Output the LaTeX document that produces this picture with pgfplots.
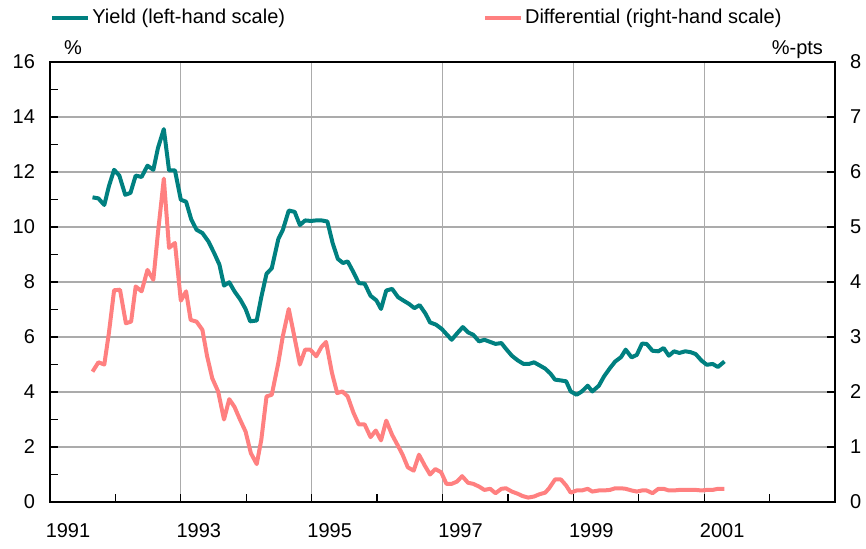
\documentclass[border=0pt]{standalone}
\usepackage{fontspec}
\setmainfont{Liberation Sans}
\usepackage{pgfplots}
\usepackage{pgfplotstable}
\pgfplotsset{compat=1.18}

\definecolor{yieldc}{HTML}{008080}
\definecolor{diffc}{HTML}{FF8080}
\definecolor{gridc}{HTML}{ABABAB}

% yield, per cent (left-hand scale)
\pgfplotstableread{
x y
1991.65 11.08
1991.74 11.04
1991.83 10.80
1991.90 11.48
1991.98 12.08
1992.06 11.87
1992.15 11.17
1992.23 11.24
1992.31 11.87
1992.40 11.82
1992.49 12.23
1992.58 12.08
1992.65 12.87
1992.74 13.56
1992.82 12.06
1992.91 12.06
1993.00 10.99
1993.08 10.92
1993.16 10.27
1993.24 9.90
1993.33 9.78
1993.42 9.48
1993.51 9.05
1993.59 8.63
1993.66 7.87
1993.74 7.99
1993.82 7.66
1993.91 7.36
1993.99 7.02
1994.06 6.57
1994.16 6.60
1994.23 7.45
1994.31 8.30
1994.39 8.50
1994.49 9.56
1994.56 9.90
1994.65 10.60
1994.74 10.55
1994.82 10.07
1994.90 10.24
1994.99 10.22
1995.07 10.24
1995.15 10.24
1995.24 10.20
1995.32 9.42
1995.40 8.84
1995.48 8.69
1995.55 8.75
1995.64 8.35
1995.72 7.96
1995.81 7.94
1995.90 7.50
1995.99 7.33
1996.06 7.02
1996.14 7.69
1996.23 7.75
1996.32 7.45
1996.40 7.33
1996.49 7.20
1996.57 7.05
1996.65 7.16
1996.74 6.85
1996.81 6.53
1996.90 6.45
1996.99 6.29
1997.07 6.08
1997.14 5.90
1997.23 6.15
1997.31 6.36
1997.39 6.17
1997.47 6.08
1997.56 5.84
1997.64 5.90
1997.73 5.82
1997.81 5.75
1997.90 5.78
1997.97 5.57
1998.06 5.32
1998.15 5.15
1998.24 5.02
1998.32 5.02
1998.40 5.08
1998.49 4.96
1998.57 4.85
1998.65 4.67
1998.72 4.45
1998.81 4.42
1998.89 4.39
1998.96 4.02
1999.05 3.90
1999.13 4.02
1999.22 4.23
1999.29 4.02
1999.39 4.23
1999.47 4.57
1999.56 4.87
1999.64 5.11
1999.73 5.27
1999.80 5.54
1999.89 5.26
1999.97 5.35
2000.05 5.76
2000.12 5.75
2000.21 5.50
2000.30 5.48
2000.38 5.60
2000.46 5.32
2000.54 5.48
2000.62 5.42
2000.71 5.48
2000.79 5.45
2000.87 5.38
2000.96 5.14
2001.04 4.99
2001.13 5.02
2001.21 4.91
2001.31 5.11
}\yieldtab

% differential, percentage points (right-hand scale)
\pgfplotstableread{
x y
1991.65 2.37
1991.74 2.54
1991.83 2.50
1991.90 3.07
1991.98 3.85
1992.07 3.86
1992.16 3.25
1992.24 3.28
1992.31 3.92
1992.40 3.83
1992.49 4.22
1992.58 4.04
1992.65 4.89
1992.74 5.88
1992.82 4.62
1992.91 4.71
1993.00 3.66
1993.08 3.83
1993.15 3.31
1993.24 3.28
1993.33 3.13
1993.40 2.66
1993.48 2.25
1993.57 2.01
1993.66 1.50
1993.74 1.87
1993.82 1.73
1993.90 1.51
1993.99 1.28
1994.07 0.89
1994.16 0.69
1994.23 1.13
1994.31 1.92
1994.39 1.95
1994.49 2.53
1994.56 3.02
1994.65 3.51
1994.74 2.98
1994.82 2.50
1994.90 2.77
1994.98 2.77
1995.07 2.65
1995.15 2.82
1995.22 2.91
1995.31 2.35
1995.39 1.98
1995.47 2.01
1995.55 1.92
1995.64 1.62
1995.72 1.41
1995.81 1.41
1995.90 1.18
1995.98 1.30
1996.06 1.12
1996.14 1.48
1996.23 1.22
1996.32 1.02
1996.39 0.86
1996.47 0.63
1996.56 0.57
1996.64 0.86
1996.73 0.66
1996.81 0.50
1996.89 0.60
1996.98 0.54
1997.06 0.33
1997.14 0.33
1997.22 0.37
1997.30 0.47
1997.39 0.35
1997.47 0.33
1997.56 0.28
1997.64 0.22
1997.73 0.24
1997.81 0.16
1997.90 0.24
1997.97 0.25
1998.06 0.19
1998.15 0.15
1998.22 0.11
1998.31 0.08
1998.40 0.10
1998.48 0.14
1998.57 0.17
1998.63 0.25
1998.72 0.41
1998.81 0.41
1998.89 0.30
1998.96 0.17
1999.05 0.21
1999.13 0.21
1999.22 0.24
1999.29 0.19
1999.39 0.21
1999.47 0.21
1999.56 0.22
1999.64 0.25
1999.73 0.25
1999.80 0.24
1999.89 0.21
1999.97 0.19
2000.05 0.21
2000.12 0.21
2000.21 0.16
2000.30 0.24
2000.38 0.24
2000.46 0.21
2000.54 0.21
2000.62 0.22
2000.71 0.22
2000.79 0.22
2000.87 0.22
2000.96 0.21
2001.04 0.22
2001.13 0.22
2001.21 0.24
2001.31 0.24
}\difftab

\pgfplotsset{
  base/.style={
    scale only axis, width=392.5pt, height=220pt,
    xmin=1991, xmax=2003,
    axis line style={line width=0.75pt},
    tick style={black, line width=0.6pt},
    tick align=inside,
    major tick length=4pt, minor tick length=4pt,
    /pgf/number format/assume math mode=true,
    /pgf/number format/1000 sep={},
    tick label style={font=\fontsize{10}{12}\selectfont},
  }
}

\begin{document}
\begin{tikzpicture}
\useasboundingbox (-25pt,-23pt) rectangle (408pt,251pt);

\begin{axis}[base,
    ymin=0, ymax=16,
    xtick={1991,1993,...,2001}, minor xtick={1992,1994,...,2002},
    ytick={0,2,...,16}, minor ytick={1,3,...,15},
    xtick pos=bottom, ytick pos=left,
    xmajorgrids, ymajorgrids,
    major grid style={gridc, line width=0.6pt},
    xticklabel style={xshift=9pt, yshift=-7pt},
    yticklabel style={xshift=-4pt},
    clip mode=individual,
  ]
  \addplot[yieldc, line width=2pt, line join=round] table[x=x, y=y] {\yieldtab};
  \node[anchor=base west, font=\fontsize{10}{12}\selectfont]
    at (rel axis cs:0,1) [xshift=3.5pt, yshift=4pt] {\%};
  \node[anchor=base east, font=\fontsize{10}{12}\selectfont]
    at (rel axis cs:1,1) [xshift=-2.5pt, yshift=4pt] {\%-pts};
\end{axis}

\begin{axis}[base,
    ymin=0, ymax=8,
    axis x line=none, axis y line*=right,
    ytick={0,1,...,8},
    yticklabel style={xshift=4pt},
    legend columns=2,
    legend cell align=left,
    legend image code/.code={\draw[#1] (-1pt,0pt) -- (17pt,0pt);},
    legend style={draw=none, fill=none, inner sep=0pt,
      at={(rel axis cs:0,1)}, anchor=west, xshift=0pt, yshift=22pt,
      font=\fontsize{10}{12}\selectfont,
      nodes={inner sep=1pt},
      /tikz/every even column/.append style={column sep=98pt}},
  ]
  \addlegendimage{yieldc, line width=2pt}
  \addlegendentry{Yield (left-hand scale)}
  \addplot[diffc, line width=2pt, line join=round] table[x=x, y=y] {\difftab};
  \addlegendentry{Differential (right-hand scale)}
\end{axis}
\end{tikzpicture}
\end{document}
